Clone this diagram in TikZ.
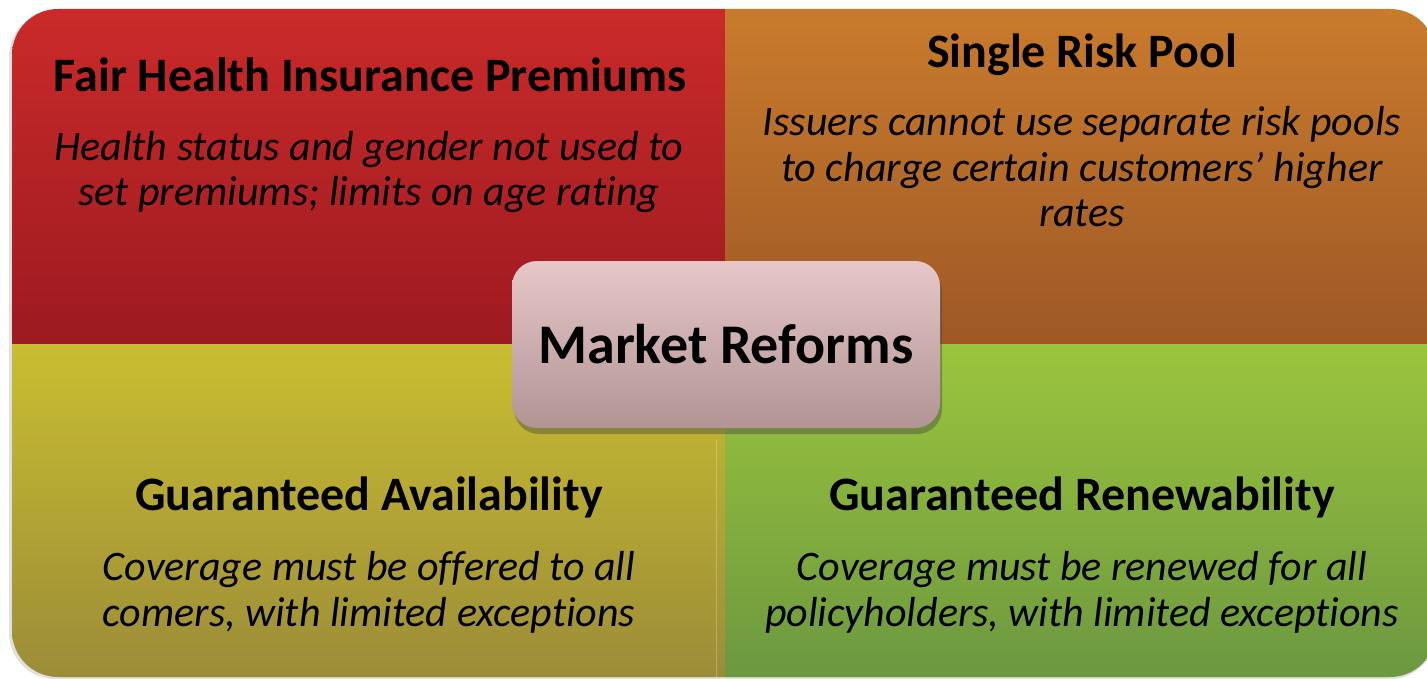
\documentclass[tikz,border=0pt]{standalone}
\usepackage{fontspec}
\setmainfont{Carlito}[Ligatures={NoCommon}]
\usetikzlibrary{shadows}
\definecolor{redT}{HTML}{CA2A2A}
\definecolor{redB}{HTML}{9C1A20}
\definecolor{orT}{HTML}{C97B2C}
\definecolor{orB}{HTML}{9E5826}
\definecolor{yeT}{HTML}{C9BE31}
\definecolor{yeB}{HTML}{9C8C38}
\definecolor{grT}{HTML}{9BC53D}
\definecolor{grB}{HTML}{6C9840}
\definecolor{pkT}{HTML}{E7C7C7}
\definecolor{pkB}{HTML}{B29494}
\tikzset{
  headtext/.style={font=\fontsize{48}{56}\selectfont\bfseries, text=black, inner sep=0pt, anchor=base},
  bodytext/.style={font=\fontsize{42}{45.5}\selectfont\itshape, text=black, inner sep=0pt, align=center, anchor=base},
  centerbox/.style={rounded corners=25pt, minimum width=428pt, minimum height=167pt, inner sep=0pt,
    top color=pkT, bottom color=pkB, draw=none,
    drop shadow={shadow xshift=2pt, shadow yshift=-6pt, opacity=0.4, fill=black!75},
    font=\fontsize{56}{62}\selectfont\bfseries, text=black}
}
\begin{document}
\begin{tikzpicture}[x=1pt,y=-1pt]
\useasboundingbox (0,0) rectangle (1427,679);
\fill[white] (0,0) rectangle (1427,679);
% soft outer shadow
\fill[black!12, rounded corners=46pt] (9,11) rectangle (1436,679);
\begin{scope}
  \clip[rounded corners=46pt] (12,9) rectangle (1436,677);
  \shade[top color=redT, bottom color=redB] (12,9) rectangle (725,344);
  \shade[top color=orT, bottom color=orB] (725,9) rectangle (1436,344);
  \shade[top color=yeT, bottom color=yeB] (12,344) rectangle (725,677);
  \shade[top color=grT, bottom color=grB] (725,344) rectangle (1436,677);
  \draw[white, opacity=0.25, line width=1pt] (716,440) -- (716,677);
\end{scope}
% top-left
\node[headtext] (h1) at (370,92) {Fair Health Insurance Premiums};
\node[bodytext] (b1) at (369,206) {Health status and gender not used to\\set premiums; limits on age rating};
% top-right
\node[headtext] (h2) at (1082,68) {Single Risk Pool};
\node[bodytext] (b2) at (1082,227) {Issuers cannot use separate risk pools\\to charge certain customers’ higher\\rates};
% bottom-left
\node[headtext] (h3) at (369,510) {Guaranteed Availability};
\node[bodytext] (b3) at (369,626) {Coverage must be offered to all\\comers, with limited exceptions};
% bottom-right
\node[headtext] (h4) at (1082,510) {Guaranteed Renewability};
\node[bodytext] (b4) at (1082,626) {Coverage must be renewed for all\\policyholders, with limited exceptions};
% center
\node[centerbox] (mr) at (726,344.5) {Market Reforms};
\end{tikzpicture}
\end{document}
